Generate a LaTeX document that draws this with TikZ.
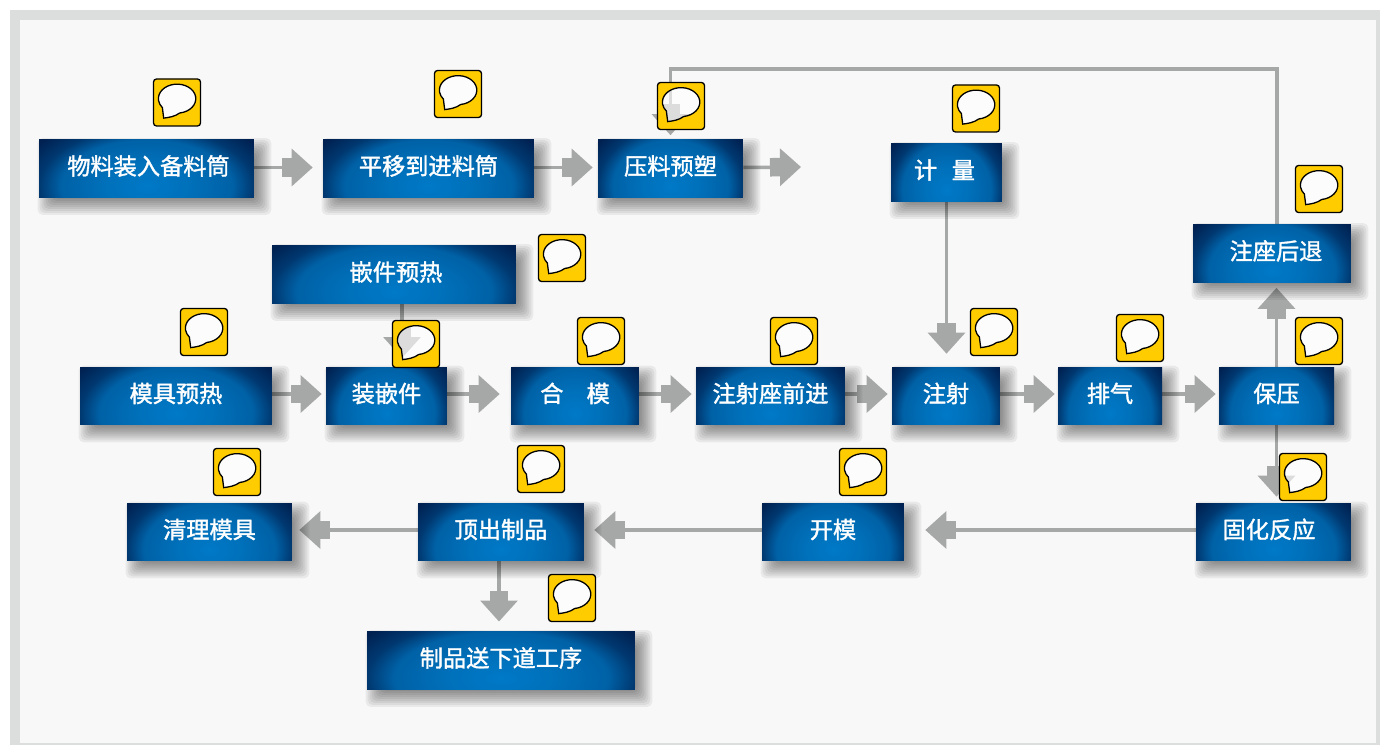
\documentclass[tikz,border=0pt]{standalone}
\usepackage{fontspec}
\setmainfont{Noto Sans CJK SC}[FakeBold=1.5]
\usetikzlibrary{arrows.meta,calc,backgrounds}

\definecolor{framegray}{HTML}{DCDEDD}
\definecolor{panelgray}{HTML}{F8F8F8}
\definecolor{flowgray}{HTML}{A6A8A7}
\definecolor{noteyellow}{HTML}{FFCC00}

\pgfdeclareradialshading{boxglow}{\pgfpoint{0bp}{0bp}}{
  rgb(0bp)=(0,0.475,0.78);
  rgb(10bp)=(0,0.44,0.73);
  rgb(20bp)=(0,0.38,0.65);
  rgb(25bp)=(0,0.22,0.44);
  rgb(31bp)=(0,0.13,0.32);
  rgb(100bp)=(0,0.13,0.32)}

\tikzset{
  stepbox/.style={minimum height=1.16cm, inner sep=0pt, text height=0.38cm, text depth=0.13cm,
    font=\fontsize{13.2}{13.2}\selectfont, text=white,
    path picture={\shade[shading=boxglow]
      ($(path picture bounding box.south west)!-0.8!(path picture bounding box.north west)$) rectangle
      ($(path picture bounding box.south east)!1.2!(path picture bounding box.north east)$);}},
  flow/.style={draw=flowgray, line width=0.07cm,
    -{Rectangle[length=0.2cm,width=0.37cm,fill=flowgray]Triangle[length=0.42cm,width=0.74cm,fill=flowgray]}},
  note/.pic={
    \fill[noteyellow, even odd rule, rounded corners=0.06cm] (-23.5,-23.5) rectangle (23.5,23.5)
      [sharp corners] (2.7,-10.5) arc[start angle=278, end angle=578, x radius=18.7, y radius=14.5]
      -- (-13.3,-15.6) .. controls (-8,-15) and (-2,-14) .. cycle;
    \draw[black, line width=0.026cm, rounded corners=0.06cm] (-23.5,-23.5) rectangle (23.5,23.5);
    \draw[black, fill=white, fill opacity=0.6, line width=0.026cm] (2.7,-10.5) arc[start angle=278, end angle=578, x radius=18.7, y radius=14.5]
      -- (-13.3,-15.6) .. controls (-8,-15) and (-2,-14) .. cycle;
  }
}

\begin{document}
\begin{tikzpicture}[x=0.02cm, y=0.02cm]
    \useasboundingbox (0,0) rectangle (1380,745);

    \node[stepbox, minimum width=4.30cm] (wuliao) at (146.5,576.5) {\hspace{0.08cm}物料装入备料筒};
    \node[stepbox, minimum width=4.22cm] (pingyi) at (428.5,576.5) {平移到进料筒};
    \node[stepbox, minimum width=2.90cm] (yaliao) at (670.5,576.5) {压料预塑};
    \node[stepbox, minimum width=2.22cm] (jiliang) at (946.5,572.5) {计\hspace{0.29cm}量\hspace{0.08cm}\null};
    \node[stepbox, minimum width=3.16cm] (houtui) at (1272,491.5) {\hspace{0.16cm}注座后退};
    \node[stepbox, minimum width=4.88cm] (yure) at (394,470.5) {\hspace{0.08cm}嵌件预热};

    \node[stepbox, minimum width=3.84cm] (mojure) at (176,349) {模具预热};
    \node[stepbox, minimum width=2.42cm] (zhuang) at (386.5,349) {装嵌件};
    \node[stepbox, minimum width=2.56cm] (hemo) at (575,349) {合　模};
    \node[stepbox, minimum width=2.98cm] (qianjin) at (770.5,349) {注射座前进};
    \node[stepbox, minimum width=2.16cm] (zhushe) at (946,349) {注射};
    \node[stepbox, minimum width=2.08cm] (paiqi) at (1110,349) {排气};
    \node[stepbox, minimum width=2.30cm] (baoya) at (1276.5,349) {保压};

    \node[stepbox, minimum width=3.30cm] (qingli) at (209.5,213) {清理模具};
    \node[stepbox, minimum width=3.32cm] (dingchu) at (501,213) {顶出制品};
    \node[stepbox, minimum width=2.84cm] (kaimo) at (833,213) {开模};
    \node[stepbox, minimum width=3.10cm] (guhua) at (1273.5,213) {固化反应\hspace{0.18cm}\null};
    \node[stepbox, minimum width=5.36cm] (songxia) at (501,84.5) {制品送下道工序};

    \coordinate (yaliaoend) at (801,578);
    \coordinate (backright) at (1277,676);
    \coordinate (backleft) at (670.5,676);

    \begin{pgfonlayer}{background}
        \fill[framegray] (10,0) rectangle (1380,735);
        \fill[panelgray] (20,2) rectangle (1376,725);

        \draw[flow, shorten >=0.2cm] ([yshift=0.02cm]wuliao.east) -- ([yshift=0.02cm]pingyi.west);
        \draw[flow, shorten >=0.1cm] ([yshift=0.02cm]pingyi.east) -- ([yshift=0.02cm]yaliao.west);
        \draw[flow] ([yshift=0.02cm]yaliao.east) -- (yaliaoend);
        \draw[flow, shorten >=0.26cm] (jiliang.south) -- (jiliang.south |- zhushe.north);
        \draw[flow, shorten >=0.08cm] (backright |- houtui.north) -- (backright) -- (backleft) -- (yaliao.north);
        \draw[flow, shorten >=0.18cm] (402,441) -- (402,378);

        \draw[flow, shorten >=0.08cm] ([yshift=0.04cm]mojure.east) -- ([yshift=0.04cm]zhuang.west);
        \draw[flow, shorten >=0.22cm] ([yshift=0.04cm]zhuang.east) -- ([yshift=0.04cm]hemo.west);
        \draw[flow, shorten >=0.08cm] ([yshift=0.04cm]hemo.east) -- ([yshift=0.04cm]qianjin.west);
        \draw[flow, shorten >=0.08cm] ([yshift=0.04cm]qianjin.east) -- ([yshift=0.04cm]zhushe.west);
        \draw[flow, shorten >=0.06cm] ([yshift=0.04cm]zhushe.east) -- ([yshift=0.04cm]paiqi.west);
        \draw[flow, shorten >=0.06cm] ([yshift=0.04cm]paiqi.east) -- ([yshift=0.04cm]baoya.west);
        \draw[flow, shorten >=0.1cm] (baoya.north) -- (baoya.north |- houtui.south);
        \draw[flow, shorten >=0.12cm] (baoya.south) -- (baoya.south |- guhua.north);

        \draw[flow, shorten >=0.42cm] ([yshift=0.04cm]guhua.west) -- ([yshift=0.04cm]kaimo.east);
        \draw[flow, shorten >=0.2cm] ([yshift=0.04cm]kaimo.west) -- ([yshift=0.04cm]dingchu.east);
        \draw[flow, shorten >=0.14cm] ([yshift=0.04cm]dingchu.west) -- ([yshift=0.04cm]qingli.east);
        \draw[flow, shorten >=0.18cm] (499,184) -- (499,114.5);

        % soft shadows under the boxes
        \foreach \n in {wuliao,pingyi,yaliao,jiliang,houtui,yure,mojure,zhuang,hemo,qianjin,zhushe,paiqi,baoya,qingli,dingchu,kaimo,guhua,songxia}
            \foreach \t in {-9,-7,...,9}
                \fill[black, opacity=0.06, rounded corners=0.1cm] ($(\n.south west)+(8-\t,-8-\t)$) rectangle ($(\n.north east)+(8+\t,-8+\t)$);
    \end{pgfonlayer}

    \pic (noteA) at (177,642.5) {note};
    \pic (noteB) at (458,651) {note};
    \pic (noteC) at (681,639) {note};
    \pic (noteD) at (976,636.5) {note};
    \pic (noteE) at (1319,556) {note};
    \pic (noteF) at (562,487) {note};
    \pic (noteG) at (204,413) {note};
    \pic (noteH) at (416,401) {note};
    \pic (noteI) at (601,404) {note};
    \pic (noteJ) at (794,404) {note};
    \pic (noteK) at (994,413) {note};
    \pic (noteL) at (1140,407) {note};
    \pic (noteM) at (1319,404) {note};
    \pic (noteN) at (1303,268) {note};
    \pic (noteO) at (237,273) {note};
    \pic (noteP) at (541,276) {note};
    \pic (noteQ) at (863,273) {note};
    \pic (noteR) at (572,147) {note};
\end{tikzpicture}
\end{document}
